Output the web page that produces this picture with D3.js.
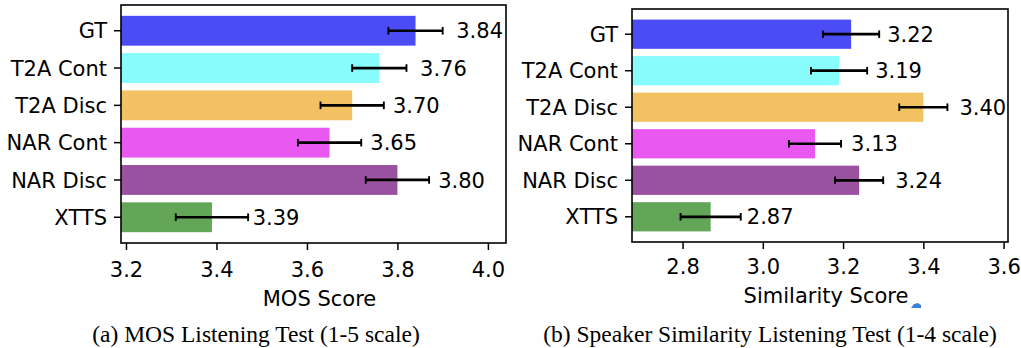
<!DOCTYPE html>
<html>
<head>
<meta charset="utf-8">
<script src="https://cdn.jsdelivr.net/npm/d3@7"></script>
<style>
  html, body { margin: 0; padding: 0; background: #fff; }
  svg { display: block; }
  .tick text, .lbl { font-family: "DejaVu Sans", sans-serif; }
  .cap { font-family: "Liberation Serif", "Times New Roman", serif; }
</style>
</head>
<body>
<svg id="chart" width="1021" height="348"></svg>
<script>
// Systems, shared by both listening tests
const systems = ["GT", "T2A Cont", "T2A Disc", "NAR Cont", "NAR Disc", "XTTS"];
const barColors = ["#4c4cf4", "#88fbfb", "#f2c162", "#ea58f2", "#9a519f", "#63a658"];

// MOS listening test (1-5 scale)
const mosValues = [3.84, 3.76, 3.70, 3.65, 3.80, 3.39];
const mosErrors = [0.06, 0.06, 0.07, 0.07, 0.07, 0.08];
const mosTicks = [3.2, 3.4, 3.6, 3.8, 4.0];

// Speaker similarity listening test (1-4 scale)
const simValues = [3.22, 3.19, 3.40, 3.13, 3.24, 2.87];
const simErrors = [0.07, 0.07, 0.06, 0.065, 0.06, 0.075];
const simTicks = [2.8, 3.0, 3.2, 3.4, 3.6];

const svg = d3.select("#chart");
const FONT = 21;

function panel(cfg) {
  const { left, right, top, bottom, domain, values, errors, ticks, xLabel, xLabelY, tickBaseline, caption, captionX } = cfg;

  const x = d3.scaleLinear().domain(domain).range([left, right]);
  const y = d3.scaleBand().domain(systems).range([top, bottom])
    .paddingInner(0.2).paddingOuter(0.29);

  const g = svg.append("g");
  const x0 = x.range()[0];

  // bars (clipped at the left edge of the axes)
  g.selectAll("rect.bar").data(systems).join("rect")
    .attr("class", "bar")
    .attr("x", x0)
    .attr("y", d => y(d))
    .attr("width", (d, i) => x(values[i]) - x0)
    .attr("height", y.bandwidth())
    .attr("fill", (d, i) => barColors[i]);

  // error bars
  const eb = g.append("g").attr("stroke", "#000");
  systems.forEach((s, i) => {
    const cy = y(s) + y.bandwidth() / 2;
    const xa = x(values[i] - errors[i]);
    const xb = x(values[i] + errors[i]);
    eb.append("line").attr("x1", xa).attr("x2", xb).attr("y1", cy).attr("y2", cy)
      .attr("stroke-width", 2.7);
    [xa, xb].forEach(xx => {
      eb.append("line").attr("x1", xx).attr("x2", xx)
        .attr("y1", cy - 3.8).attr("y2", cy + 3.8).attr("stroke-width", 1.9);
    });
  });

  // value labels
  g.selectAll("text.lbl").data(systems).join("text")
    .attr("class", "lbl")
    .attr("x", (d, i) => x(values[i] + 0.09))
    .attr("y", d => y(d) + y.bandwidth() / 2)
    .attr("dy", "0.36em")
    .attr("font-size", FONT)
    .attr("fill", "#000")
    .text((d, i) => values[i].toFixed(2));

  // frame
  g.append("rect")
    .attr("x", left).attr("y", top)
    .attr("width", right - left).attr("height", bottom - top)
    .attr("fill", "none").attr("stroke", "#000").attr("stroke-width", 1.6);

  // x axis
  const xa = g.append("g").attr("transform", `translate(0,${bottom})`)
    .call(d3.axisBottom(x).tickValues(ticks).tickFormat(d3.format(".1f"))
      .tickSize(7).tickPadding(0));
  xa.select(".domain").remove();
  xa.selectAll(".tick line").attr("stroke", "#000").attr("stroke-width", 1.5);
  xa.selectAll(".tick text").attr("font-size", FONT).attr("fill", "#000")
    .attr("dy", null).attr("y", tickBaseline - bottom);

  // y axis
  const ya = g.append("g").attr("transform", `translate(${left},0)`)
    .call(d3.axisLeft(y).tickSize(7).tickPadding(7));
  ya.select(".domain").remove();
  ya.selectAll(".tick line").attr("stroke", "#000").attr("stroke-width", 1.5);
  ya.selectAll(".tick text").attr("font-size", FONT).attr("fill", "#000").attr("dy", "0.36em");

  // axis title
  g.append("text").attr("class", "lbl")
    .attr("x", (left + right) / 2 + 6).attr("y", xLabelY)
    .attr("text-anchor", "middle").attr("font-size", FONT).attr("fill", "#000")
    .text(xLabel);

  // caption
  g.append("text").attr("class", "cap")
    .attr("x", captionX).attr("y", 342)
    .attr("text-anchor", "middle").attr("font-size", 23.5).attr("fill", "#000")
    .text(caption);
}

panel({
  left: 121, right: 506, top: 5, bottom: 243,
  domain: [3.189, 4.04], values: mosValues, errors: mosErrors, ticks: mosTicks,
  xLabel: "MOS Score", xLabelY: 306, tickBaseline: 277,
  caption: "(a) MOS Listening Test (1-5 scale)", captionX: 256
});

panel({
  left: 632, right: 1008, top: 9, bottom: 242,
  domain: [2.674, 3.611], values: simValues, errors: simErrors, ticks: simTicks,
  xLabel: "Similarity Score", xLabelY: 303, tickBaseline: 274,
  caption: "(b) Speaker Similarity Listening Test (1-4 scale)", captionX: 770
});

// small blue marker below the similarity axis title
svg.append("path")
  .attr("d", "M911,308 L914,304 L918,303 L921,305 L921,308 Z")
  .attr("fill", "#3b7fd6");
</script>
</body>
</html>
